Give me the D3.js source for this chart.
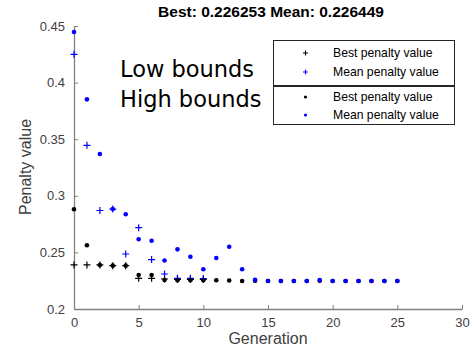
<!DOCTYPE html>
<html>
<head>
<meta charset="utf-8">
<script src="https://cdn.jsdelivr.net/npm/d3@7"></script>
<style>
  body { margin: 0; background: #fff; }
  text { font-family: "Liberation Sans", Arial, sans-serif; }
</style>
</head>
<body>
<div id="chart"></div>
<script>
// generations
const lowGen = d3.range(0, 11);
const highGen = d3.range(0, 26);

// "Low bounds" run ('+' markers)
const lowBest = [0.2389, 0.2389, 0.2389, 0.2383, 0.2383, 0.2271, 0.2271, 0.2265, 0.2261, 0.2261, 0.2261];
const lowMean = [0.4250, 0.3446, 0.2870, 0.2883, 0.2486, 0.2718, 0.2437, 0.2309, 0.2271, 0.2271, 0.2269];

// "High bounds" run ('.' markers)
const highBest = [0.2881, 0.2563, 0.2389, 0.2383, 0.2383, 0.2300, 0.2300, 0.2256, 0.2254, 0.2254, 0.2254,
  0.2254, 0.2252, 0.2247, 0.2250, 0.2247, 0.2247, 0.2247, 0.2247, 0.2250, 0.2247, 0.2247, 0.2247, 0.2247, 0.2247, 0.2247];
const highMean = [0.4447, 0.3852, 0.3369, 0.2883, 0.2837, 0.2616, 0.2603, 0.2428, 0.2527, 0.2462, 0.2351,
  0.2451, 0.2550, 0.2351, 0.2259, 0.2247, 0.2247, 0.2247, 0.2247, 0.2256, 0.2247, 0.2247, 0.2247, 0.2247, 0.2247, 0.2247];

const xTicks = [0, 5, 10, 15, 20, 25, 30];
const yTicks = [0.2, 0.25, 0.3, 0.35, 0.4, 0.45];
const legendLabels = ["Best penalty value", "Mean penalty value"];
const runLabels = ["Low bounds", "High bounds"];
const titleText = "Best: 0.226253 Mean: 0.226449";

const w = 473, h = 351;

const svg = d3.select("#chart").append("svg")
  .attr("width", w)
  .attr("height", h);

const x = d3.scaleLinear().domain([0, 30]).range([74, 462]);
const y = d3.scaleLinear().domain([0.2, 0.45]).range([309, 26]);

// axes (MATLAB style: ticks inward, no box)
const xAxis = d3.axisBottom(x).tickValues(xTicks).tickSizeInner(-4).tickSizeOuter(0).tickPadding(9);
const yAxis = d3.axisLeft(y).tickValues(yTicks).tickSizeInner(-4).tickSizeOuter(0).tickPadding(9)
  .tickFormat(d3.format("~g"));

const gx = svg.append("g")
  .attr("transform", "translate(0," + y(0.2) + ")")
  .call(xAxis);
const gy = svg.append("g")
  .attr("transform", "translate(" + x(0) + ",0)")
  .call(yAxis);

[gx, gy].forEach(g => {
  g.select(".domain").attr("stroke", "#808080").attr("stroke-width", 1.3);
  g.selectAll(".tick line").attr("stroke", "#808080");
  g.selectAll(".tick text").attr("fill", "#404040").style("font-size", "13px");
});

// markers
function plus(g, xs, ys, color) {
  const s = 3.5;
  g.selectAll(null).data(xs).enter().append("path")
    .attr("d", (d, i) => {
      const cx = x(d), cy = y(ys[i]);
      return "M" + (cx - s) + "," + cy + "H" + (cx + s) + "M" + cx + "," + (cy - s) + "V" + (cy + s);
    })
    .attr("stroke", color)
    .attr("stroke-width", 1.2)
    .attr("fill", "none");
}
function dots(g, xs, ys, color) {
  g.selectAll(null).data(xs).enter().append("circle")
    .attr("cx", d => x(d))
    .attr("cy", (d, i) => y(ys[i]))
    .attr("r", 2.3)
    .attr("fill", color);
}

const marks = svg.append("g");
plus(marks.append("g"), lowGen, lowBest, "#000");
plus(marks.append("g"), lowGen, lowMean, "#0000ff");
dots(marks.append("g"), highGen, highBest, "#000");
dots(marks.append("g"), highGen, highMean, "#0000ff");

// title
svg.append("text")
  .attr("x", 271).attr("y", 17)
  .attr("text-anchor", "middle")
  .style("font-size", "15.5px")
  .style("font-weight", "bold")
  .attr("fill", "#000")
  .text(titleText);

// axis labels
svg.append("text")
  .attr("x", x(15)).attr("y", 344)
  .attr("text-anchor", "middle")
  .style("font-size", "16px")
  .attr("fill", "#404040")
  .text("Generation");

svg.append("text")
  .attr("transform", "translate(31,167) rotate(-90)")
  .attr("text-anchor", "middle")
  .style("font-size", "16px")
  .attr("fill", "#404040")
  .text("Penalty value");

// run labels
runLabels.forEach((t, i) => {
  svg.append("text")
    .attr("x", 120).attr("y", 77 + i * 30)
    .style("font-family", "DejaVu Sans")
    .style("font-size", "22.5px")
    .attr("fill", "#000")
    .text(t);
});

// legends
const boxes = [{ y0: 40, h: 45, marker: "plus" }, { y0: 86, h: 38, marker: "dot" }];
const rowY = [[53, 72], [97, 115]];
const colors = ["#000", "#0000ff"];
boxes.forEach((b, k) => {
  const lg = svg.append("g");
  lg.append("rect")
    .attr("x", 273.5).attr("y", b.y0 + 0.5)
    .attr("width", 181).attr("height", b.h)
    .attr("fill", "#fff")
    .attr("stroke", "#262626")
    .attr("stroke-width", 1);
  legendLabels.forEach((t, i) => {
    const cy = rowY[k][i];
    if (b.marker === "plus") {
      lg.append("path")
        .attr("d", "M303," + cy + "H308M305.5," + (cy - 2.5) + "V" + (cy + 2.5))
        .attr("stroke", colors[i]).attr("stroke-width", 1.1);
    } else {
      lg.append("circle").attr("cx", 305.5).attr("cy", cy).attr("r", 1.6).attr("fill", colors[i]);
    }
    lg.append("text")
      .attr("x", 333).attr("y", cy + 4)
      .style("font-size", "12.2px")
      .attr("fill", "#000")
      .text(t);
  });
});
</script>
</body>
</html>
